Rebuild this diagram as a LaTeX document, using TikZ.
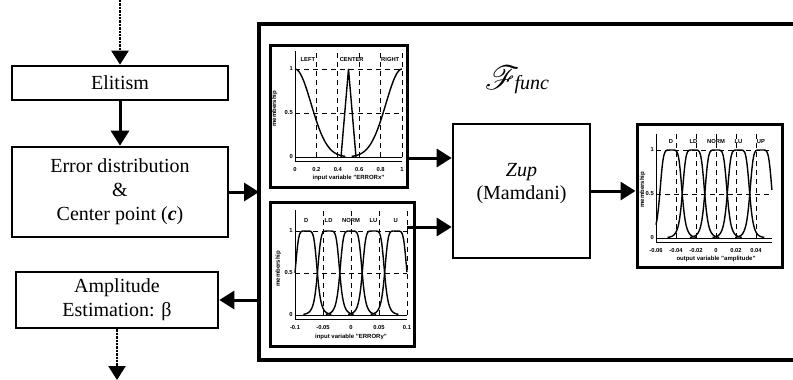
\documentclass[tikz,border=0pt]{standalone}
\usepackage{fontspec}
\setmainfont{Liberation Serif}
\setsansfont{Liberation Sans}
\usepackage{amsmath}
\usepackage{mathrsfs}
\usetikzlibrary{arrows.meta}

\begin{document}
\begin{tikzpicture}[x=1pt,y=-1pt,
  blk/.style={draw,line width=2.6pt,inner sep=0pt,align=center,font=\fontsize{20}{24}\selectfont},
  panel/.style={draw,line width=3pt,inner sep=0pt},
  arr/.style={line width=3pt,-{Triangle[length=15pt,width=18pt]}},
  dotarr/.style={line width=2.4pt,densely dotted,-{Triangle[length=14pt,width=17pt]}},
  gridln/.style={line width=0.9pt,dash pattern=on 5pt off 4pt},
  axln/.style={line width=0.9pt},
  mf/.style={line width=1.4pt},
  ticklbl/.style={font=\sffamily\bfseries\fontsize{5.8}{6.5}\selectfont,inner sep=1pt},
  axlbl/.style={font=\sffamily\bfseries\fontsize{6}{7}\selectfont,inner sep=1pt}]
\useasboundingbox (0,0) rectangle (793,380);

% left: flow of the algorithm
\coordinate (src) at (120,0);
\node[blk,minimum width=216pt,minimum height=34pt] (elit) at (120,83) {Elitism};
\node[blk,minimum width=216pt,minimum height=90pt] (err) at (120,192)
  {Error distribution\\\&\\Center point (\textbf{\textit{c}})};
\node[blk,minimum width=202pt,minimum height=56pt] (amp) at (117,300)
  {Amplitude\\Estimation: β};
\coordinate (snk) at (117,380);

% right: fuzzy block
\node[minimum width=534pt,minimum height=336pt,inner sep=0pt,outer sep=0pt] (frame) at (526,192) {};
\draw[line width=3.2pt] (frame.north east) -- (frame.north west) -- (frame.south west) -- (frame.south east);
\node[font=\fontsize{20}{24}\selectfont] (ftitle) at (517,80)
  {{\fontsize{24}{26}\selectfont\scalebox{1.35}{$\mathscr{F}$}}\kern-5pt\textit{func}};

\node[blk,minimum width=137pt,minimum height=134pt] (zup) at (521.5,191) {};
\node[font=\fontsize{20}{23}\selectfont,align=center] (zupname) at ([yshift=7pt]zup.center) {\textit{Zup}\\(Mamdani)};

% input ERRORx
\node[panel,minimum width=137pt,minimum height=142pt] (errx) at (338.5,116) {};
\begin{scope}[shift={(295,157)},x=107pt,y=88pt]
  \foreach \gx in {0.2,0.4,0.6,0.8,1}
    \draw[gridln] (\gx,0) -- (\gx,1.2);
  \foreach \gy in {0.5,1}
    \draw[gridln] (0,\gy) -- (1,\gy);
  \draw[axln] (0,-0.05) -- (0,1.2);
  \draw[axln] (0,0) -- (1,0);
  \draw[axln] (0,-0.05) -- (1,-0.05);
  \foreach \gx [count=\i] in {0,0.2,0.4,0.6,0.8,1}
    \node[ticklbl] (xa\i) at (\gx,-0.14) {\gx};
  \node[ticklbl,anchor=east] (ya1) at (-0.01,1) {1};
  \node[ticklbl,anchor=east] (ya2) at (-0.01,0.5) {0.5};
  \node[ticklbl,anchor=east] (ya3) at (-0.01,0) {0};
  \node[axlbl] (xname) at (0.5,-0.24) {input variable "ERRORx"};
  \node[axlbl,rotate=90] (yname) at (-0.19,0.55) {membership};
  \node[ticklbl] (left) at (0.12,1.11) {LEFT};
  \node[ticklbl] (center) at (0.53,1.11) {CENTER};
  \node[ticklbl] (right) at (0.89,1.11) {RIGHT};
  \draw[mf,domain=0:0.47,samples=30,smooth] plot (\x,{exp(-(\x*\x)/0.045)});
  \draw[mf,domain=0.53:1,samples=30,smooth] plot (\x,{exp(-((1-\x)*(1-\x))/0.045)});
  \draw[mf] (0.43,0) -- (0.5,1) -- (0.57,0);
\end{scope}

% input ERRORy
\node[panel,minimum width=144pt,minimum height=144pt] (erry) at (342,274) {};
\begin{scope}[shift={(351,315)},x=560pt,y=84pt]
  \foreach \gx in {-0.05,0,0.05,0.1}
    \draw[gridln] (\gx,0) -- (\gx,1.25);
  \foreach \gy in {0.5,1}
    \draw[gridln] (-0.1,\gy) -- (0.1,\gy);
  \draw[axln] (-0.1,-0.05) -- (-0.1,1.25);
  \draw[axln] (-0.1,0) -- (0.1,0);
  \draw[axln] (-0.1,-0.05) -- (0.1,-0.05);
  \foreach \gx [count=\i] in {-0.1,-0.05,0,0.05,0.1}
    \node[ticklbl] (xb\i) at (\gx,-0.15) {\gx};
  \node[ticklbl,anchor=east] (yb1) at (-0.102,1) {1};
  \node[ticklbl,anchor=east] (yb2) at (-0.102,0.5) {0.5};
  \node[ticklbl,anchor=east] (yb3) at (-0.102,0) {0};
  \node[axlbl] (xnameb) at (0,-0.26) {input variable "ERRORy"};
  \node[axlbl,rotate=90] (ynameb) at (-0.13,0.55) {membership};
  \foreach \c/\t [count=\i] in {-0.08/D,-0.04/LD,0/NORM,0.04/LU,0.08/U}{
    \node[ticklbl] (mb\i) at (\c,1.12) {\t};
    \pgfmathsetmacro\lo{max(-0.1,\c-0.045)}
    \pgfmathsetmacro\hi{min(0.1,\c+0.045)}
    \draw[mf,domain=\lo:\hi,samples=40,smooth]
      plot (\x,{1/(1+pow(((\x-(\c))/0.02)*((\x-(\c))/0.02),3))});
  }
\end{scope}

% output amplitude
\node[panel,minimum width=145pt,minimum height=143pt] (ampl) at (709.5,195.5) {};
\begin{scope}[shift={(716,238)},x=1000pt,y=88pt]
  \foreach \gx in {-0.04,-0.02,0,0.02,0.04}
    \draw[gridln] (\gx,0) -- (\gx,1.18);
  \foreach \gy in {0.5,1}
    \draw[gridln] (-0.06,\gy) -- (0.056,\gy);
  \draw[axln] (-0.06,-0.05) -- (-0.06,1.18);
  \draw[axln] (-0.06,0) -- (0.056,0);
  \draw[axln] (-0.06,-0.05) -- (0.056,-0.05);
  \foreach \gx [count=\i] in {-0.06,-0.04,-0.02,0,0.02,0.04}
    \node[ticklbl] (xc\i) at (\gx,-0.14) {\gx};
  \node[ticklbl,anchor=east] (yc1) at (-0.061,1) {1};
  \node[ticklbl,anchor=east] (yc2) at (-0.061,0.5) {0.5};
  \node[ticklbl,anchor=east] (yc3) at (-0.061,0) {0};
  \node[axlbl] (xnamec) at (0,-0.24) {output variable "amplitude"};
  \node[axlbl,rotate=90] (ynamec) at (-0.0735,0.55) {membership};
  \foreach \c/\t [count=\i] in {-0.045/D,-0.0225/LD,0/NORM,0.0225/LU,0.045/UP}{
    \node[ticklbl] (mc\i) at (\c,1.1) {\t};
    \pgfmathsetmacro\lo{max(-0.06,\c-0.026)}
    \pgfmathsetmacro\hi{min(0.056,\c+0.026)}
    \draw[mf,domain=\lo:\hi,samples=40,smooth]
      plot (\x,{1/(1+pow(((\x-(\c))/0.01125)*((\x-(\c))/0.01125),3))});
  }
\end{scope}

% connectors
\coordinate (in1) at (407,158);
\coordinate (in2) at (407,227);
\draw[dotarr] (src) -- (elit);
\draw[arr] (elit) -- (err);
\draw[arr] (err) -- (err -| frame.west);
\draw[arr] (amp -| frame.west) -- (amp);
\draw[dotarr] (amp) -- (snk);
\draw[arr] (in1) -- (in1 -| zup.west);
\draw[arr] (in2) -- (in2 -| zup.west);
\draw[arr] (zup.east) -- (zup.east -| ampl.west);
\end{tikzpicture}
\end{document}
